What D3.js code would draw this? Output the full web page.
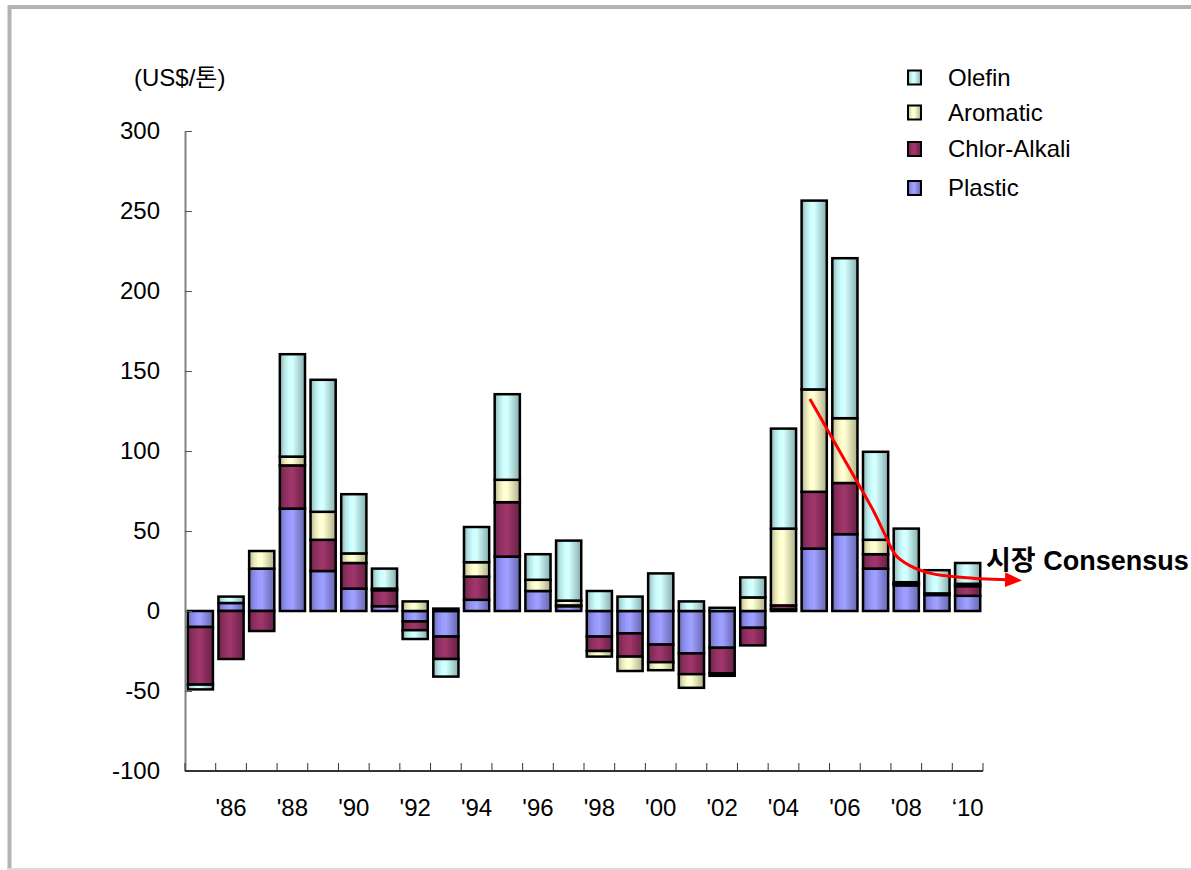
<!DOCTYPE html>
<html>
<head>
<meta charset="utf-8">
<script src="https://cdn.jsdelivr.net/npm/d3@7"></script>
<style>
    body { margin: 0; background: #fff; }
    text { font-family: "Liberation Sans", Arial, "Noto Sans CJK KR", sans-serif; fill: #000; }
</style>
</head>
<body>
<svg id="chart" width="1191" height="870"></svg>
<script>
// values (US$/ton)
const years = [1985, 1986, 1987, 1988, 1989, 1990, 1991, 1992, 1993, 1994, 1995, 1996, 1997,
               1998, 1999, 2000, 2001, 2002, 2003, 2004, 2005, 2006, 2007, 2008, 2009, 2010];
const plastic     = [-10, 5, 26.5, 64, 25, 14, 3, -6.5, -16, 7, 34, 12.5, 3,
                     -16, -14, -21, -26.5, -23, -10.5, 1, 39, 48, 26.5, 16, 10, 9.5];
const chlorAlkali = [-36, -30, -12.5, 27, 19.5, 16, 10, -5.5, -14, 14.5, 34, 0, 0.5,
                     -9, -14.5, -11, -13, -16, -11, 2.5, 35.5, 32, 9, 1, 1, 6];
const aromatic    = [0, 0, 11, 5.5, 17.5, 6, 1, 6, 1.5, 9, 14, 7, 3,
                     -3.5, -9, -5, -8.5, -1.5, 8.5, 48, 64, 40.5, 9, 1, 0, 1.5];
const olefin      = [-3, 4, 0, 64, 82.5, 37, 12.5, -5.5, -11, 22, 53.5, 16, 37.5,
                     12.5, 9, 23.5, 6, 2, 12.5, 62.5, 118, 100, 55, 33.5, 14.5, 13];

const seriesNames = ['Plastic', 'Chlor-Alkali', 'Aromatic', 'Olefin'];
const seriesColors = ['#9999ff', '#993366', '#ffffcc', '#ccffff'];
const yTicks = [-100, -50, 0, 50, 100, 150, 200, 250, 300];
const xTickLabels = {1986: "'86", 1988: "'88", 1990: "'90", 1992: "'92", 1994: "'94", 1996: "'96",
                     1998: "'98", 2000: "'00", 2002: "'02", 2004: "'04", 2006: "'06", 2008: "'08", 2010: "\u201810"};
const unitLabel = '(US$/톤)';
// hand-drawn "market consensus" arrow, in [year, value]
const consensusPath = [[2004.86, 132.5], [2005.5, 111], [2006.3, 84], [2006.92, 63], [2007.3, 48],
                       [2007.65, 35], [2008.1, 28.5], [2008.8, 23.5], [2009.85, 21], [2011.28, 19.5]];
const consensusLabel = '시장 Consensus';

const svg = d3.select('#chart');
const margin = {left: 185, right: 208, top: 131, bottom: 99};
const width = 1191, height = 870;

// frame
svg.append('line').attr('x1', 8).attr('x2', width).attr('y1', 7).attr('y2', 7)
    .attr('stroke', '#b3b3b3').attr('stroke-width', 4);
svg.append('line').attr('x1', 9.5).attr('x2', 9.5).attr('y1', 5).attr('y2', height)
    .attr('stroke', '#b3b3b3').attr('stroke-width', 4);
svg.append('line').attr('x1', 8).attr('x2', width).attr('y1', 869).attr('y2', 869)
    .attr('stroke', '#dadada').attr('stroke-width', 2);

let table = years.map((yr, i) => ({
    year: yr,
    'Plastic': plastic[i],
    'Chlor-Alkali': chlorAlkali[i],
    'Aromatic': aromatic[i],
    'Olefin': olefin[i]
}));

let stacked = d3.stack().keys(seriesNames).offset(d3.stackOffsetDiverging)(table);

let x = d3.scaleBand()
    .domain(years)
    .range([margin.left, width - margin.right])
    .paddingInner(0.18)
    .paddingOuter(0.09);
let y = d3.scaleLinear()
    .domain([-100, 300])
    .range([height - margin.bottom, margin.top]);
let xYear = d3.scaleLinear()
    .domain([years[0], years[years.length - 1]])
    .range([x(years[0]) + x.bandwidth() / 2, x(years[years.length - 1]) + x.bandwidth() / 2]);

// cylinder-like shading, as in the old office charts
let defs = svg.append('defs');
seriesNames.forEach((name, i) => {
    let c = d3.color(seriesColors[i]);
    let g = defs.append('linearGradient')
        .attr('id', 'grad' + i)
        .attr('x1', 0).attr('x2', 1).attr('y1', 0).attr('y2', 0);
    let stops = [[0, c.darker(1)], [0.18, c.darker(0.3)], [0.35, c], [0.5, c.brighter(0.15)],
                 [0.72, c.darker(0.4)], [1, c.darker(1.1)]];
    stops.forEach(s => g.append('stop').attr('offset', s[0]).attr('stop-color', s[1]));
});
defs.append('marker')
    .attr('id', 'arrow')
    .attr('markerUnits', 'userSpaceOnUse')
    .attr('markerWidth', 18).attr('markerHeight', 16)
    .attr('refX', 2).attr('refY', 7.5)
    .attr('orient', 'auto')
    .append('path')
    .attr('d', 'M0,0 L17,7.5 L0,15 Z')
    .attr('fill', '#ff0000');

// bars
let layers = svg.append('g').selectAll('g')
    .data(stacked)
    .join('g')
    .attr('fill', (d, i) => 'url(#grad' + i + ')');
layers.selectAll('rect')
    .data(d => d.filter(p => p[1] - p[0] !== 0))
    .join('rect')
    .attr('x', d => x(d.data.year))
    .attr('width', x.bandwidth())
    .attr('y', d => y(Math.max(d[0], d[1])))
    .attr('height', d => Math.abs(y(d[0]) - y(d[1])))
    .attr('stroke', '#000')
    .attr('stroke-width', 2.5);

// y axis
let yAxis = svg.append('g')
    .attr('transform', 'translate(' + margin.left + ',0)')
    .call(d3.axisLeft(y).tickValues(yTicks).tickFormat(d => String(d))
        .tickSize(-7).tickSizeOuter(0).tickPadding(25));
yAxis.select('.domain').attr('stroke', '#808080').attr('stroke-width', 2);
yAxis.selectAll('.tick line').attr('stroke', '#555');
yAxis.selectAll('text').attr('font-size', 24).attr('font-family', '"Liberation Sans", Arial, sans-serif');

// x axis: ticks at the band edges, labels every other year
let xAxis = svg.append('g').attr('transform', 'translate(0,' + y(-100) + ')');
let edges = years.map(yr => x(yr) - x.step() * x.paddingInner() / 2);
edges.push(width - margin.right);
xAxis.append('line')
    .attr('x1', margin.left).attr('x2', width - margin.right)
    .attr('stroke', '#333').attr('stroke-width', 2);
xAxis.selectAll('.edge')
    .data(edges)
    .join('line')
    .attr('class', 'edge')
    .attr('x1', d => d).attr('x2', d => d)
    .attr('y1', 0).attr('y2', -8)
    .attr('stroke', '#333');
xAxis.selectAll('.lbl')
    .data(years.filter(yr => yr in xTickLabels))
    .join('text')
    .attr('class', 'lbl')
    .attr('x', d => x(d) + x.bandwidth() / 2)
    .attr('y', 45)
    .attr('text-anchor', 'middle')
    .attr('font-size', 24)
    .text(d => xTickLabels[d]);

svg.append('text')
    .attr('x', 134).attr('y', 86)
    .attr('font-size', 24)
    .text(unitLabel);

// legend
let legend = svg.append('g').attr('transform', 'translate(908,0)');
let legendRows = seriesNames.map((name, i) => ({name: name, i: i})).reverse();
let legendY = [77.5, 112.5, 149, 188];
legendRows.forEach((r, k) => {
    legend.append('rect')
        .attr('x', 0).attr('y', legendY[k] - 7)
        .attr('width', 13).attr('height', 14)
        .attr('fill', 'url(#grad' + r.i + ')')
        .attr('stroke', '#000').attr('stroke-width', 2);
    legend.append('text')
        .attr('x', 40).attr('y', legendY[k] + 8)
        .attr('font-size', 24)
        .text(r.name);
});

// consensus arrow
let line = d3.line()
    .x(d => xYear(d[0]))
    .y(d => y(d[1]))
    .curve(d3.curveCatmullRom);
svg.append('path')
    .attr('d', line(consensusPath))
    .attr('fill', 'none')
    .attr('stroke', '#ff0000')
    .attr('stroke-width', 3)
    .attr('marker-end', 'url(#arrow)');
svg.append('text')
    .attr('x', 986).attr('y', 570)
    .attr('font-size', 27)
    .attr('font-weight', 'bold')
    .text(consensusLabel);
</script>
</body>
</html>
